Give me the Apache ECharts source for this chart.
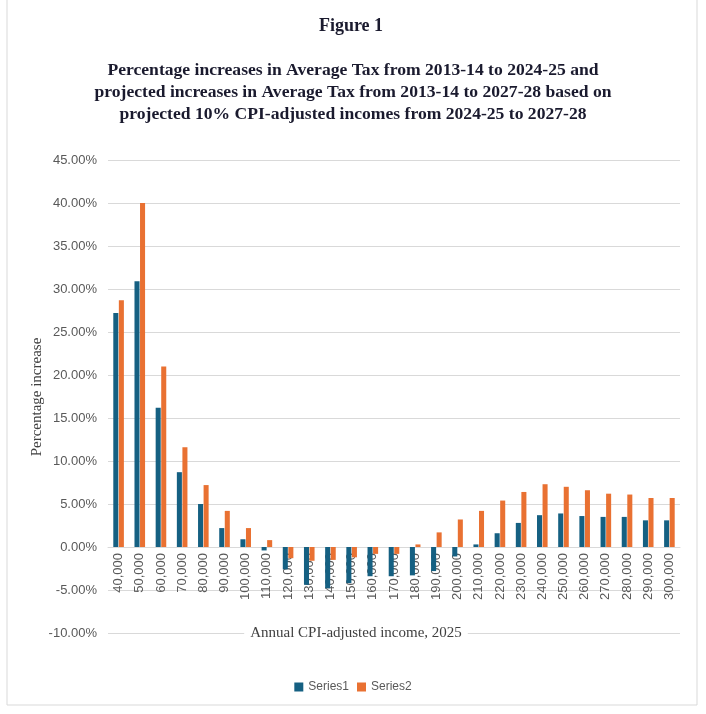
<!DOCTYPE html>
<html>
<head>
<meta charset="utf-8">
<script src="https://cdn.jsdelivr.net/npm/echarts@6/dist/echarts.min.js"></script>
<style>html,body{margin:0;padding:0;background:#fff;}#c{width:706px;height:714px;}</style>
</head>
<body>
<div id="c"></div>
<script>
const categories = ['40,000','50,000','60,000','70,000','80,000','90,000','100,000','110,000','120,000','130,000','140,000','150,000','160,000','170,000','180,000','190,000','200,000','210,000','220,000','230,000','240,000','250,000','260,000','270,000','280,000','290,000','300,000'];
const series1 = [27.2,30.9,16.2,8.7,5.0,2.2,0.9,-0.4,-2.6,-4.4,-4.8,-4.2,-3.4,-3.4,-3.3,-2.8,-1.1,0.3,1.6,2.8,3.7,3.9,3.6,3.5,3.5,3.1,3.1];
const series2 = [28.7,40.0,21.0,11.6,7.2,4.2,2.2,0.8,-1.3,-1.6,-1.5,-1.2,-0.8,-0.8,0.3,1.7,3.2,4.2,5.4,6.4,7.3,7.0,6.6,6.2,6.1,5.7,5.7];
const yTicks = {min:-10, max:45, interval:5};

const gridTop = 160, gridBottomPx = 633;
const zeroOffset = -(gridBottomPx - gridTop) * (0 - yTicks.min) / (yTicks.max - yTicks.min);

const chart = echarts.init(document.getElementById('c'));
const serif = '"Liberation Serif","Times New Roman",serif';
const sans = '"Liberation Sans",Arial,sans-serif';
chart.setOption({
  animation:false,
  backgroundColor:'#fff',
  graphic:[
    {type:'rect', shape:{x:7, y:-2, width:690, height:707}, style:{fill:'none', stroke:'#d9d9d9', lineWidth:1}, silent:true},
    {type:'text', x:351, y:17, style:{text:'Figure 1', font:'bold 18px '+serif, fill:'#1a1a2e', textAlign:'center'}},
    {type:'text', x:353, y:59, style:{text:'Percentage increases in Average Tax from 2013-14 to 2024-25 and\nprojected increases in Average Tax from 2013-14 to 2027-28 based on\nprojected 10% CPI-adjusted incomes from 2024-25 to 2027-28',
      font:'bold 17.6px '+serif, lineHeight:22, fill:'#1a1a2e', textAlign:'center', align:'center'}},
    {type:'text', x:356, y:626, z:100, style:{text:'Annual CPI-adjusted income, 2025', font:'15px '+serif, fill:'#404040', backgroundColor:'#fff', padding:[0,6], textAlign:'center'}},
    {type:'text', x:37, y:397, rotation:Math.PI/2, style:{text:'Percentage increase', font:'15px '+serif, fill:'#404040', textAlign:'center', textVerticalAlign:'middle'}}
  ],
  legend:{bottom:16, left:'center', itemWidth:9, itemHeight:9, itemGap:8, icon:'rect',
    textStyle:{fontFamily:sans, fontSize:12, color:'#595959'}, data:['Series1','Series2']},
  grid:{left:108, right:26, top:gridTop, bottom:714-gridBottomPx},
  xAxis:{type:'category', data:categories, offset:zeroOffset,
    axisLine:{onZero:false, lineStyle:{color:'#d9d9d9'}}, axisTick:{show:false},
    axisLabel:{rotate:90, interval:0, margin:6, fontFamily:sans, fontSize:13, color:'#595959'}},
  yAxis:{type:'value', min:yTicks.min, max:yTicks.max, interval:yTicks.interval,
    axisLine:{show:false}, axisTick:{show:false},
    splitLine:{lineStyle:{color:'#d9d9d9'}},
    axisLabel:{formatter:v=>v.toFixed(2)+'%', fontFamily:sans, fontSize:13, color:'#595959', margin:11}},
  series:[
    {name:'Series1', type:'bar', data:series1, itemStyle:{color:'#156082'}, barGap:'10%', barCategoryGap:'50%'},
    {name:'Series2', type:'bar', data:series2, itemStyle:{color:'#E97132'}, barGap:'10%', barCategoryGap:'50%'}
  ]
});
</script>
</body>
</html>
